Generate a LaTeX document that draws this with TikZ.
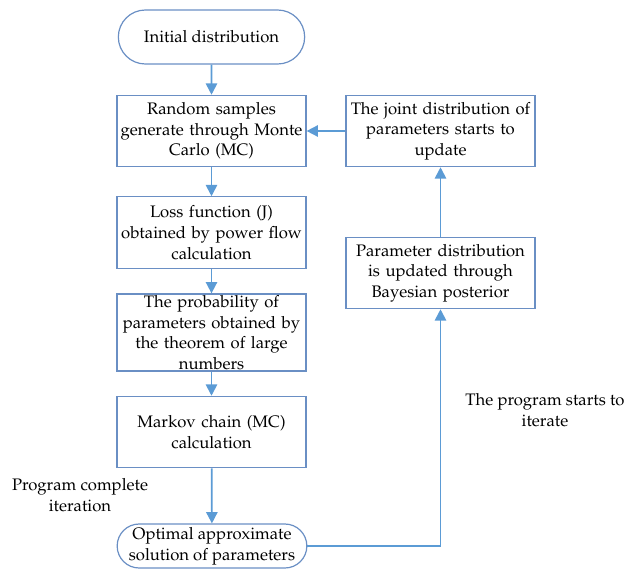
\documentclass[tikz,border=0pt]{standalone}
\usepackage[T1]{fontenc}
\usepackage{mathpazo}
\usetikzlibrary{shapes.misc,arrows.meta}
\definecolor{bordc}{HTML}{6A8FC4}
\definecolor{arrc}{HTML}{5B9BD5}
\tikzset{
  every node/.style={font=\fontsize{12.5}{15.5}\selectfont},
  procbox/.style={draw=bordc,line width=0.9pt,rectangle,minimum width=141.75pt,minimum height=53.5pt,align=center,inner sep=1pt,text width=138pt},
  termbox/.style={draw=bordc,line width=0.9pt,rounded rectangle,minimum width=141.75pt,minimum height=40.5pt,align=center,inner sep=1pt},
  flow/.style={draw=arrc,line width=1.3pt,-{Triangle[length=8.5pt,width=8.5pt]}},
  lbl/.style={align=center}
}
\begin{document}
\begin{tikzpicture}[x=0.75pt,y=-0.75pt]
\useasboundingbox (0,0) rectangle (627,570);
\node[termbox] (init) at (211.5,37) {Initial distribution};
\node[procbox] (rand) at (211.5,131) {Random samples\\generate through Monte\\Carlo (MC)};
\node[procbox] (loss) at (211.5,232.5) {Loss function (J)\\obtained by power flow\\calculation};
\node[procbox] (prob) at (211.5,332.5) {The probability of\\parameters obtained by\\the theorem of large\\numbers};
\node[procbox] (mark) at (211.5,432) {Markov chain (MC)\\calculation};
\node[termbox,minimum height=33pt] (opt) at (212,546) {Optimal approximate\\solution of parameters};
\node[procbox] (joint) at (440.5,131) {The joint distribution of\\parameters starts to\\update};
\node[procbox] (bayes) at (440.5,273) {Parameter distribution\\is updated through\\Bayesian posterior};
\node[lbl] (lab1) at (545,410) {The program starts to\\iterate};
\node[lbl] (lab2) at (80,495) {Program complete\\iteration};
\coordinate (turn) at (440.5,546);
\draw[flow] (init) -- (rand);
\draw[flow] (rand) -- (loss);
\draw[flow] (loss) -- (prob);
\draw[flow] (prob) -- (mark);
\draw[flow] (mark) -- (opt);
\draw[flow] (opt.east) -- (turn) -- (bayes.south);
\draw[flow] (bayes) -- (joint);
\draw[flow] (joint) -- (rand);
\end{tikzpicture}
\end{document}
